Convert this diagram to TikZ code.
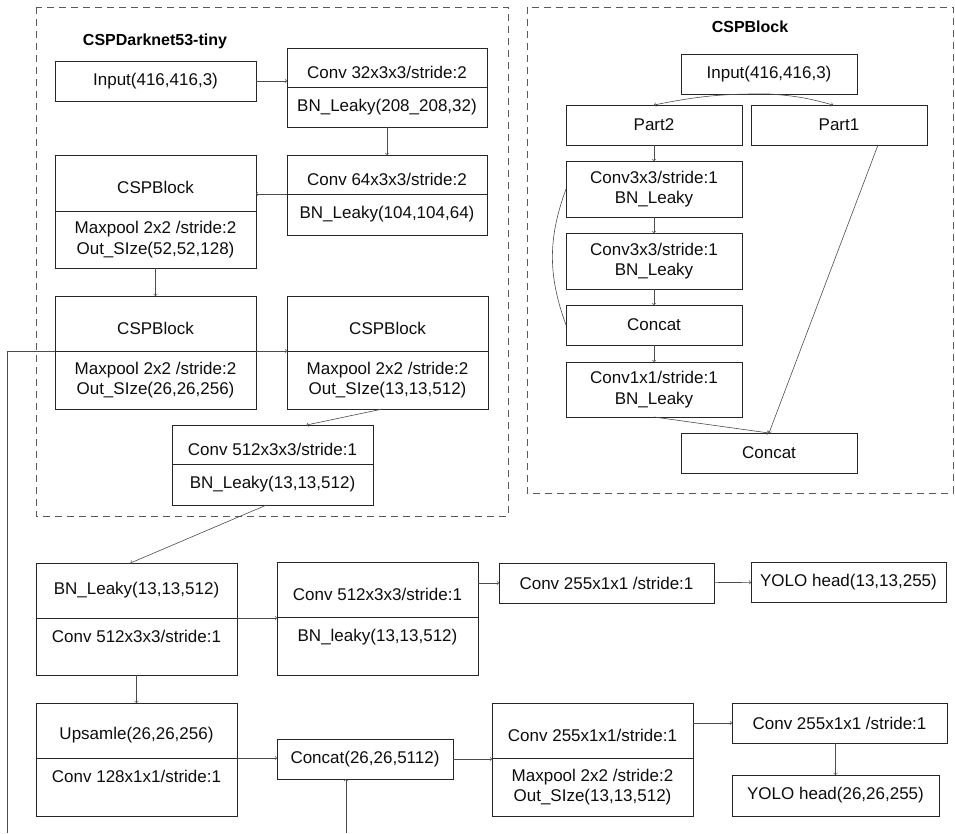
\documentclass[tikz,border=0pt]{standalone}
\usepackage{fontspec}
\setmainfont{Liberation Sans}
\usetikzlibrary{positioning}

\begin{document}
\begin{tikzpicture}[x=1pt, y=-1pt,
    box/.style={draw=black!85, line width=1pt, rectangle, outer sep=0pt, inner sep=2pt,
        font=\fontsize{17}{20.5}\selectfont, text=black!95, align=center},
    headrow/.style={text height=22pt},
    tailrow/.style={text depth=21pt},
    frame/.style={draw=black!65, line width=0.8pt, dash pattern=on 7pt off 5pt},
    title/.style={font=\fontsize{16}{19}\selectfont\bfseries, text=black},
    link/.style={draw=black!70, line width=0.6pt}]
    \useasboundingbox (0,0) rectangle (955,833);

    % backbone
    \draw[frame] (36,7) rectangle (508,516);
    \node[title] (bbtitle) at (155,41) {CSPDarknet53-tiny};

    \node (input) [box, minimum width=201pt, minimum height=40pt, anchor=north west] at (55,61) {Input(416,416,3)};
    \node (conv32a) [box, headrow, minimum width=200pt, minimum height=39pt, anchor=north west] at (287,48) {Conv 32x3x3/stride:2};
    \node (conv32b) [box, minimum width=200pt, minimum height=40pt, below=0pt of conv32a] {BN\_Leaky(208\_208,32)};
    \node (conv64a) [box, headrow, minimum width=200pt, minimum height=39pt, anchor=north west] at (287,155) {Conv 64x3x3/stride:2};
    \node (conv64b) [box, minimum width=200pt, minimum height=41pt, below=0pt of conv64a] {BN\_Leaky(104,104,64)};
    \node (csp1a) [box, headrow, minimum width=201pt, minimum height=56pt, anchor=north west] at (55,155) {CSPBlock};
    \node (csp1b) [box, minimum width=201pt, minimum height=57pt, below=0pt of csp1a] {Maxpool 2x2 /stride:2\\Out\_SIze(52,52,128)};
    \node (csp2a) [box, headrow, minimum width=201pt, minimum height=55pt, anchor=north west] at (55,296) {CSPBlock};
    \node (csp2b) [box, minimum width=201pt, minimum height=58pt, below=0pt of csp2a] {Maxpool 2x2 /stride:2\\Out\_SIze(26,26,256)};
    \node (csp3a) [box, headrow, minimum width=201pt, minimum height=55pt, anchor=north west] at (287,296) {CSPBlock};
    \node (csp3b) [box, minimum width=201pt, minimum height=58pt, below=0pt of csp3a] {Maxpool 2x2 /stride:2\\Out\_SIze(13,13,512)};
    \node (conv512a) [box, headrow, minimum width=201pt, minimum height=39pt, anchor=north west] at (172,425) {Conv 512x3x3/stride:1};
    \node (conv512b) [box, minimum width=201pt, minimum height=41pt, below=0pt of conv512a] {BN\_Leaky(13,13,512)};

    \draw[link, ->] (input) -- (input -| conv32a.west);
    \draw[link, ->] (conv32b) -- (conv64a);
    \draw[link, ->] (conv64a.south west) -- (conv64a.south west -| csp1a.east);
    \draw[link, ->] (csp1b) -- (csp2a);
    \draw[link, ->] (csp2a.south east) -- (csp3a.south west);
    \draw[link, ->] ([xshift=-5pt]csp3b.south) -- ([xshift=34pt]conv512a.north);

    % heads
    \node (h1aa) [box, minimum width=201pt, minimum height=55pt, anchor=north west] at (36,563) {BN\_Leaky(13,13,512)};
    \node (h1ab) [box, tailrow, minimum width=201pt, minimum height=57pt, below=0pt of h1aa] {Conv 512x3x3/stride:1};
    \node (h1ba) [box, headrow, minimum width=201pt, minimum height=55pt, anchor=north west] at (277,562) {Conv 512x3x3/stride:1};
    \node (h1bb) [box, tailrow, minimum width=201pt, minimum height=58pt, below=0pt of h1ba] {BN\_leaky(13,13,512)};
    \node (conv255a) [box, minimum width=215pt, minimum height=40pt, anchor=north west] at (499,563) {Conv 255x1x1 /stride:1};
    \node (yolo1) [box, minimum width=195pt, minimum height=40pt, anchor=north west] at (751,562) {YOLO head(13,13,255)};

    \node (upsa) [box, headrow, minimum width=201pt, minimum height=55pt, anchor=north west] at (36,703) {Upsamle(26,26,256)};
    \node (upsb) [box, tailrow, minimum width=201pt, minimum height=58pt, below=0pt of upsa] {Conv 128x1x1/stride:1};
    \node (concat) [box, minimum width=176pt, minimum height=40pt, anchor=north west] at (277,739) {Concat(26,26,5112)};
    \node (conv255ba) [box, headrow, minimum width=201pt, minimum height=55pt, anchor=north west] at (492,703) {Conv 255x1x1/stride:1};
    \node (conv255bb) [box, minimum width=201pt, minimum height=58pt, below=0pt of conv255ba] {Maxpool 2x2 /stride:2\\Out\_SIze(13,13,512)};
    \node (conv255c) [box, minimum width=215pt, minimum height=40pt, anchor=north west] at (732,703) {Conv 255x1x1 /stride:1};
    \node (yolo2) [box, minimum width=207pt, minimum height=41pt, anchor=north west] at (732,775) {YOLO head(26,26,255)};

    \coordinate (skipdown) at (7,833);
    \coordinate (skipup) at (346,833);

    \draw[link, ->] ([xshift=-6pt]conv512b.south) -- ([xshift=-6pt]h1aa.north);
    \draw[link, ->] (h1aa.south east) -- (h1aa.south east -| h1ba.west);
    \draw[link, ->] (h1ba.east |- conv255a) -- (conv255a);
    \draw[link, ->] (conv255a) -- (yolo1);
    \draw[link, ->] (h1ab) -- (upsa);
    \draw[link, ->] (upsa.south east) -- (upsa.south east -| concat.west);
    \draw[link, ->] (concat) -- (concat -| conv255ba.west);
    \draw[link, ->] (conv255ba.east |- conv255c) -- (conv255c);
    \draw[link, ->] (yolo2.north |- conv255c.south) -- (yolo2.north);
    \draw[link] (csp2a.south west) -| (skipdown);
    \draw[link, ->] (skipup) -- (skipup |- concat.south);

    % CSPBlock detail
    \draw[frame] (527,7) rectangle (953,493);
    \node[title] (cbtitle) at (750,27) {CSPBlock};

    \node (bin) [box, minimum width=176pt, minimum height=40pt, anchor=north west] at (681,54) {Input(416,416,3)};
    \node (part2) [box, minimum width=176pt, minimum height=40pt, anchor=north west] at (566,105) {Part2};
    \node (part1) [box, minimum width=176pt, minimum height=40pt, anchor=north west] at (751,105) {Part1};
    \node (cva) [box, minimum width=176pt, minimum height=56pt, anchor=north west] at (566,161) {Conv3x3/stride:1\\BN\_Leaky};
    \node (cvb) [box, minimum width=176pt, minimum height=56pt, anchor=north west] at (566,233) {Conv3x3/stride:1\\BN\_Leaky};
    \node (cat) [box, minimum width=176pt, minimum height=40pt, anchor=north west] at (566,305) {Concat};
    \node (cv1) [box, minimum width=176pt, minimum height=55pt, anchor=north west] at (566,362) {Conv1x1/stride:1\\BN\_Leaky};
    \node (catout) [box, minimum width=176pt, minimum height=40pt, anchor=north west] at (681,433) {Concat};

    \draw[link, ->] (bin.south) to[bend right=6] (part2.north);
    \draw[link, ->] (bin.south) to[bend left=6] ([xshift=-6pt]part1.north);
    \draw[link, ->] (part2) -- (cva);
    \draw[link, ->] (cva) -- (cvb);
    \draw[link, ->] (cvb) -- (cat);
    \draw[link, ->] (cat) -- (cv1);
    \draw[link] (cva.west) to[bend right=20] (cat.west);
    \draw[link, ->] (cv1.south) -- (catout.north);
    \draw[link, ->] ([xshift=-49pt]part1.south east) -- (catout.north);
\end{tikzpicture}
\end{document}
